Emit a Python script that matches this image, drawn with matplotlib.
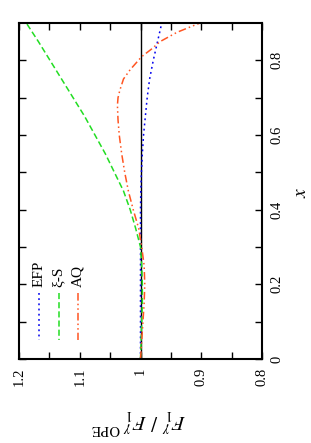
import numpy as np
import matplotlib
matplotlib.use('Agg')
import matplotlib.pyplot as plt

plt.rcParams['font.family'] = ['Liberation Serif', 'DejaVu Serif']
plt.rcParams['mathtext.fontset'] = 'stix'

# x values (vertical axis in the rotated picture)
x_efp = [0.0, 0.1, 0.2, 0.3, 0.4, 0.45, 0.5, 0.55, 0.6, 0.65, 0.7, 0.75, 0.8, 0.85, 0.9]
efp = [1.0, 1.0, 1.0, 1.0, 1.0, 0.9995, 0.9985, 0.997, 0.995, 0.992, 0.989, 0.985, 0.979, 0.972, 0.965]

x_xis = [0.0, 0.05, 0.1, 0.15, 0.2, 0.25, 0.3, 0.35, 0.4, 0.45, 0.5, 0.55, 0.6, 0.65, 0.7, 0.75, 0.8, 0.85, 0.9]
xis = [1.0, 0.999, 0.998, 0.997, 0.997, 0.998, 1.0, 1.008, 1.017, 1.028, 1.043, 1.058, 1.075, 1.092, 1.111, 1.130, 1.149, 1.168, 1.188]

x_aq = [0.0, 0.05, 0.1, 0.15, 0.2, 0.25, 0.3, 0.35, 0.4, 0.45, 0.5, 0.55, 0.6, 0.64, 0.68, 0.70, 0.72, 0.75, 0.775, 0.81, 0.83, 0.85, 0.875, 0.9]
aq = [1.0, 0.998, 0.996, 0.994, 0.993, 0.994, 0.998, 1.003, 1.012, 1.020, 1.026, 1.031, 1.035, 1.037, 1.038, 1.037, 1.034, 1.028, 1.017, 0.998, 0.982, 0.968, 0.940, 0.902]

xticks = [0, 0.2, 0.4, 0.6, 0.8]
xtick_labels = ['0', '0.2', '0.4', '0.6', '0.8']
rticks = [1.2, 1.1, 1.0, 0.9, 0.8]
rtick_labels = ['1.2', '1.1', '1', '0.9', '0.8']

labels = ['EFP', 'ξ-S', 'AQ']
colors = ['#0000ee', '#22dd22', '#ff5522']
styles = [(0, (1.2, 2.2)), (0, (4, 2)), (0, (5, 2, 1, 2, 1, 2))]

fig = plt.figure(figsize=(3.11, 4.43), dpi=100)
ax = fig.add_axes([0.0611, 0.1896, 0.7814, 0.7585])

ax.axvline(1.0, color='black', lw=1.0)
for xv, yv, c, ls in zip([x_efp, x_xis, x_aq], [efp, xis, aq], colors, styles):
    ax.plot(yv, xv, color=c, lw=1.1, linestyle=ls)

ax.set_xlim(1.2, 0.8)
ax.set_ylim(0, 0.9)

ax.set_xticks(rticks)
ax.set_xticklabels(rtick_labels, rotation=90, fontsize=10.5)
ax.set_xticks(np.arange(0.85, 1.2, 0.1), minor=True)
ax.set_yticks(xticks)
ax.set_yticklabels(xtick_labels, rotation=90, fontsize=10.5, va='center')
ax.set_yticks([0.1, 0.3, 0.5, 0.7], minor=True)
ax.yaxis.tick_right()
ax.tick_params(which='both', direction='in', length=5, width=1, top=True, bottom=True, left=True, right=True)
ax.tick_params(axis='y', pad=6)
ax.tick_params(axis='x', pad=6)
for s in ax.spines.values():
    s.set_linewidth(1.5)

# axis titles
fig.text(302 / 311, 1 - 192 / 443, '$x$', rotation=90, fontsize=14, ha='center', va='center')
fig.text(139 / 311, 1 - 421 / 443, r'$F_1^{\,\gamma}\ /\ F_1^{\,\gamma\ \mathrm{OPE}}$',
         rotation=180, fontsize=15, ha='center', va='center')

# legend drawn vertically
for i, (lab, c, ls) in enumerate(zip(labels, colors, styles)):
    px = (39 + 19.5 * i - 19) / 243
    ax.plot([px, px], [(359 - 293) / 336, (359 - 340) / 336], transform=ax.transAxes,
            color=c, lw=1.1, linestyle=ls, clip_on=False)
    ax.text(px, (359 - 287) / 336, lab, transform=ax.transAxes, rotation=90,
            ha='center', va='bottom', fontsize=11)

fig.savefig('out.png', dpi=100)
